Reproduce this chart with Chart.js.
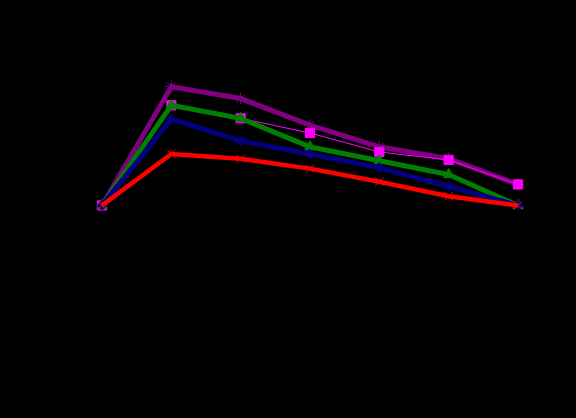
<!DOCTYPE html>
<html>
<head>
<meta charset="utf-8">
<script src="https://cdn.jsdelivr.net/npm/chart.js@4"></script>
<style>
    html, body { margin: 0; padding: 0; background: #000; }
    #chart-div { width: 576px; height: 418px; }
</style>
</head>
<body>
<div id="chart-div"><canvas id="chart1"></canvas></div>
<script>
//--------------------------------------DATOS
var etiquetas = ["0", "1", "2", "3", "4", "5", "6"];
var serieRoja = [1, 2.3, 2.18, 1.93, 1.6, 1.23, 1];
var serieAzul = [1, 3.18, 2.63, 2.3, 1.95, 1.48, 1];
var serieVerde = [1, 3.53, 3.2, 2.48, 2.13, 1.78, 1];
var serieMagenta = [1, 3.53, 3.2, 2.83, 2.35, 2.15, 1.53];
var serieMorada = [1, 4, 3.7, 3.03, 2.48, 2.18, 1.53];

function serie(datos, color, ancho, estilo, radio, relleno) {
    return {
        data: datos,
        borderColor: color,
        backgroundColor: relleno,
        borderWidth: ancho,
        pointStyle: estilo,
        pointRadius: radio,
        pointBorderColor: color,
        pointBackgroundColor: relleno,
        pointBorderWidth: 1,
        tension: 0,
        clip: false
    };
}

//--------------------------------------GRAFICA
function grafica() {
    var popCanvas = document.getElementById("chart1");
    new Chart(popCanvas, {
        type: 'line',
        data: {
            labels: etiquetas,
            datasets: [
                serie(serieRoja, '#ff0000', 4.5, 'crossRot', 6, '#ff0000'),
                serie(serieAzul, '#000080', 5, 'rectRot', 5, '#000080'),
                serie(serieVerde, '#008000', 5, 'triangle', 6, '#008000'),
                serie(serieMagenta, '#ff00ff', 1, 'rect', 6.5, '#ff00ff'),
                serie(serieMorada, '#800080', 5, 'star', 6, '#800080')
            ]
        },
        options: {
            responsive: true,
            maintainAspectRatio: false,
            animation: false,
            layout: {
                padding: {left: 102, right: 58, top: 5, bottom: 173}
            },
            scales: {
                x: {display: false, offset: false},
                y: {display: false, min: 0, max: 6}
            },
            plugins: {
                legend: {display: false},
                tooltip: {enabled: false}
            }
        }
    });
}

grafica();
</script>
</body>
</html>
